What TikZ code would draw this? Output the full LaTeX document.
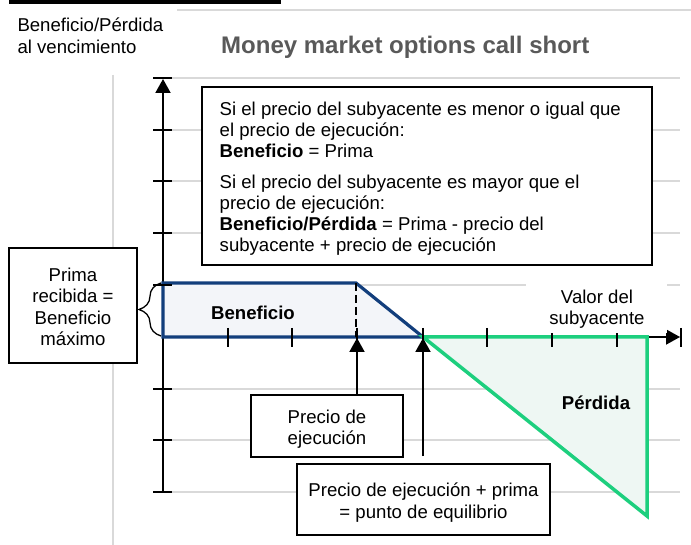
\documentclass[tikz,border=0pt]{standalone}
\usepackage{fontspec}
\setmainfont{Liberation Sans}
\usetikzlibrary{arrows.meta,decorations.pathreplacing}
\definecolor{gridgray}{HTML}{D9D9D9}
\definecolor{navy}{HTML}{123E7C}
\definecolor{bluefill}{HTML}{F3F5F9}
\definecolor{greenline}{HTML}{1DCF7E}
\definecolor{greenfill}{HTML}{EEF7F3}
\definecolor{titlegray}{HTML}{595959}
\newcommand{\cellsC}[1]{\begin{tabular}[t]{@{}c@{}}#1\end{tabular}}
\newcommand{\cellsL}[1]{\begin{tabular}[t]{@{}l@{}}#1\end{tabular}}
\begin{document}
\begin{tikzpicture}[x=1pt,y=-1pt,
  grid/.style={gridgray, line width=2pt},
  axis/.style={black, line width=2pt},
  tickmark/.style={black, line width=2pt},
  box/.style={draw=black, line width=1.6pt, fill=white, inner sep=0pt},
  txt/.style={inner sep=0pt, font=\fontsize{18.6}{21}\selectfont},
  boldtxt/.style={inner sep=0pt, font=\bfseries\fontsize{18.6}{21}\selectfont},
  tip/.style={-{Triangle[width=15pt,length=14pt]}},
]
\useasboundingbox (0,0) rectangle (691,545);
% frame decorations
\fill[black] (9,0) rectangle (281,4.5);
\draw[grid] (177,10.5) -- (691,10.5);
\draw[grid] (113,75) -- (113,545);
\foreach \y in {78,130,181.5,233,285,337,388.5,440,491.5}
  \draw[grid] (172,\y) -- (680,\y);
% headings
\node[txt, anchor=base west] (ylab1) at (17.3,31.7) {Beneficio/Pérdida};
\node[txt, anchor=base west] (ylab2) at (17.3,53.5) {al vencimiento};
\node[inner sep=0pt, anchor=base west, text=titlegray,
      font=\bfseries\fontsize{24}{28}\selectfont] (title) at (221,54)
      {Money market options call short};
% axes
\coordinate (O) at (163,337);
\coordinate (ytop) at (163,79);
\coordinate (ybot) at (163,491.5);
\coordinate (xend) at (680,337);
\draw[axis, tip] (ybot) -- (ytop);
\draw[axis, tip] (O) -- (xend);
% profit and loss areas
\filldraw[fill=bluefill, draw=navy, line width=3.2pt, line join=miter]
  (163,283) -- (356,283) -- (423,337) -- (163,337) -- cycle;
\draw[black, line width=2pt, dash pattern=on 8pt off 4pt] (356,283) -- (356,337);
\filldraw[fill=greenfill, draw=greenline, line width=3.5pt, line join=miter]
  (423,337) -- (647,337) -- (647,516) -- cycle;
% ticks
\foreach \y in {78,130,181.5,233,285,388.5,440,491.5}
  \draw[tickmark] (153,\y) -- (172,\y);
\foreach \x in {228,292,357,423,487,552,617}
  \draw[tickmark] (\x,328) -- (\x,347);
\draw[tickmark] (681,328) -- (681,347);
% area labels
\node[boldtxt, anchor=base] (benef) at (253,319.5) {Beneficio};
\node[boldtxt, anchor=base] (perd) at (596,409.5) {Pérdida};
\fill[white] (526,279) rectangle (667,333);
\node[txt, anchor=base] (valor) at (597,303.5) {\cellsC{Valor del\\subyacente}};
% rule box
\node[box, minimum width=450pt, minimum height=178pt] (rule) at (427,176) {};
\node[txt, anchor=base west] (ruletext) at (219.5,115.5) {\cellsL{%
Si el precio del subyacente es menor o igual que\\
el precio de ejecución:\\
\textbf{Beneficio} = Prima\\[10pt]
Si el precio del subyacente es mayor que el\\
precio de ejecución:\\
\textbf{Beneficio/Pérdida} = Prima - precio del\\
subyacente + precio de ejecución}};
% premium box and brace
\node[box, minimum width=128pt, minimum height=115pt] (prima) at (73,305.5) {};
\node[inner sep=0pt, font=\fontsize{18.6}{21.3}\selectfont, anchor=base] (primatext) at (73,281.5)
  {\cellsC{Prima\\recibida =\\Beneficio\\máximo}};
\draw[black, line width=1.3pt, decorate, decoration={brace, amplitude=22pt}]
  (161,336) -- (161,283);
% strike box
\node[box, minimum width=152pt, minimum height=62pt] (strikebox) at (327,426) {};
\node[txt, anchor=base] (striketext) at (327,423.5) {\cellsC{Precio de\\ejecución}};
% break-even box
\node[box, minimum width=253pt, minimum height=71pt] (bebox) at (423.5,499.5) {};
\node[inner sep=0pt, font=\fontsize{18.6}{22}\selectfont, anchor=base] (betext) at (423.5,496.5)
  {\cellsC{Precio de ejecución + prima\\= punto de equilibrio}};
% pointer arrows
\coordinate (strike) at (357,338);
\coordinate (bep) at (423,338);
\path (bebox.north -| bep) coordinate (bepbase);
\coordinate (bepfoot) at ([yshift=7pt]bepbase);
\draw[axis, tip] (strike |- strikebox.north) -- (strike);
\draw[axis, tip] (bepfoot) -- (bep);
\end{tikzpicture}
\end{document}
